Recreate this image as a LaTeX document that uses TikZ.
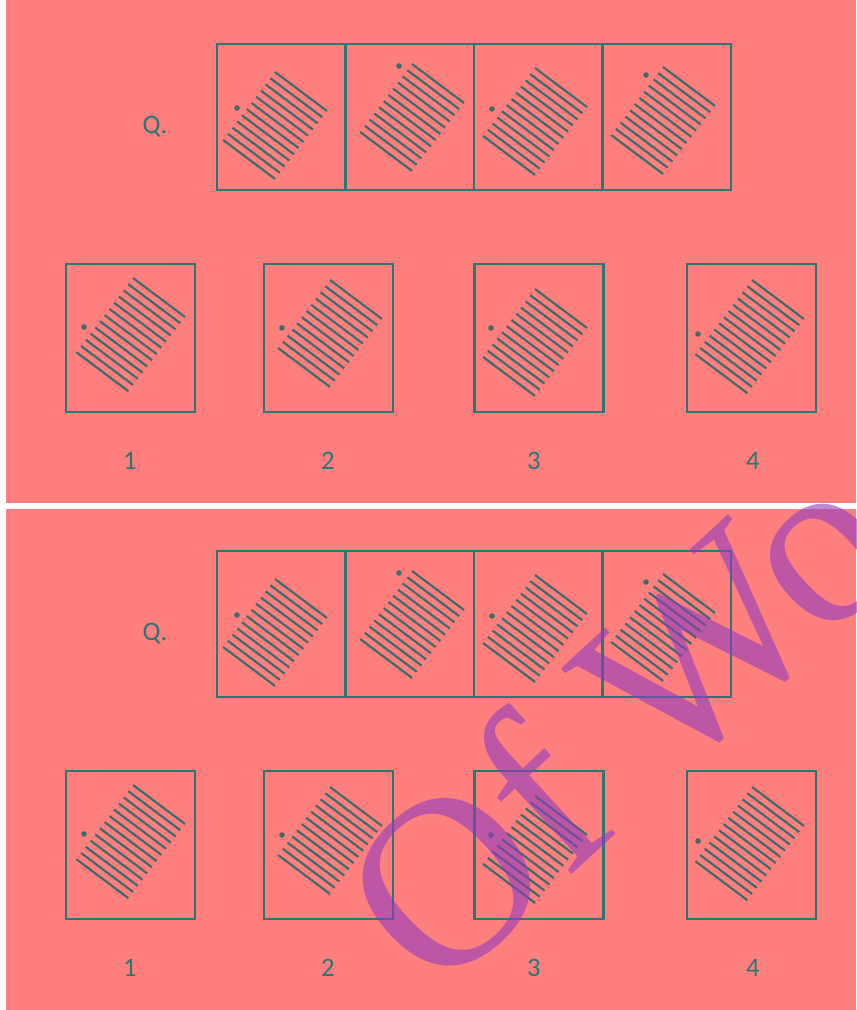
\documentclass[tikz,border=0pt]{standalone}
\usepackage{fontspec}
\setmainfont{Carlito}
\newfontfamily\wmfont{Liberation Serif}
\usetikzlibrary{positioning}
\definecolor{salmon}{HTML}{FF7F7E}
\definecolor{cteal}{HTML}{2A7774}
\definecolor{cslate}{HTML}{3F6C68}
\definecolor{cplum}{HTML}{8E3DC0}

\begin{document}
\begin{tikzpicture}[
  x=0.025cm, y=-0.025cm,
  cell/.style={draw=cteal, line width=1.9pt, minimum width=3.2125cm, minimum height=3.65cm, inner sep=0pt},
  ansbox/.style={draw=cteal, line width=1.9pt, minimum width=3.225cm, minimum height=3.7cm, inner sep=0pt},
  hatchline/.style={draw=cslate, line width=1.55pt},
  lbl/.style={text=cteal, font=\fontsize{19}{19}\selectfont},
  wmark/.style={text=cplum, text opacity=0.6, font=\wmfont\fontsize{172}{172}\selectfont, inner sep=0pt}
]
  \useasboundingbox[fill=white] (0,0) rectangle (856,1010);
  \clip (0,0) rectangle (856,1010);
  \fill[salmon] (6,0) rectangle (856,503);
  \fill[salmon] (6,509) rectangle (856,1010);

  % the same question twice, one panel under the other
  \foreach \py [count=\p] in {0,507} {
    \begin{scope}[shift={(0,\py)}]
      \node[lbl] (q\p) at (155,127) {Q.};
      \foreach \cx [count=\i] in {281.25,409.75,538.25,666.75}
        \node[cell] (q\p c\i) at (\cx,117) {};
      \foreach \cx/\lx [count=\i] in {130.5/130,328.5/328,539/534,751.5/753} {
        \node[ansbox] (a\p c\i) at (\cx,338) {};
        \node[lbl] (n\p c\i) at (\lx,461) {\i};
      }
      % hatch blocks: top-left start, dot, number of lines
      \foreach \tx/\ty/\dx/\dy/\n in {275/72/237/108/12, 412/64/399/66/12, 535/68/492/109/12, 663/67/646/75/12,
                                      133/278/84/327/13, 330/280/282/328/12, 535/289/491/328/12, 752/280/698/334/13} {
        \foreach \k in {1,...,\n}
          \draw[hatchline] ({\tx-4.72*(\k-1)},{\ty+6.18*(\k-1)}) -- ++(52,39);
        \fill[cslate] (\dx,\dy) circle[radius=2.8];
      }
    \end{scope}
  }

  \node[wmark, rotate=42.7, anchor=base west] (wm) at (436,1000) {Of Wo};
\end{tikzpicture}
\end{document}
